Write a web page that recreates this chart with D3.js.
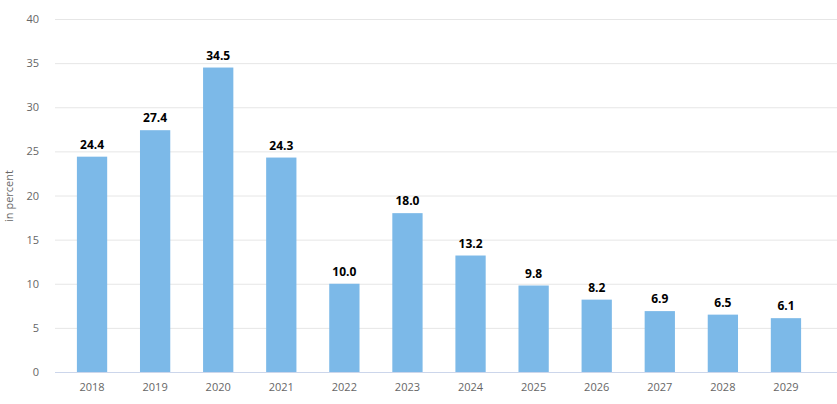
<!DOCTYPE html>
<html><head><meta charset="utf-8">
<script src="https://cdn.jsdelivr.net/npm/d3@7"></script>
<style>body{margin:0;background:#fff}text{font-family:"Open Sans",sans-serif}</style>
</head><body><svg id="c" width="837" height="404"></svg>
<script>
const years=["2018","2019","2020","2021","2022","2023","2024","2025","2026","2027","2028","2029"];
const values=[24.4,27.4,34.5,24.3,10.0,18.0,13.2,9.8,8.2,6.9,6.5,6.1];
const yTicks=[0,5,10,15,20,25,30,35,40];
const svg=d3.select("#c");
const x=d3.scaleBand().domain(years).range([60.5,817.5]).paddingInner(0.52).paddingOuter(0.26);
const y=d3.scaleLinear().domain([0,40]).range([372,19]);
svg.append("g").selectAll("line").data(yTicks).join("line")
 .attr("x1",55).attr("x2",837).attr("y1",d=>y(d)+0.5).attr("y2",d=>y(d)+0.5)
 .attr("stroke",d=>d===0?"#ccd6eb":"#e6e6e6");
svg.append("g").selectAll("text").data(yTicks).join("text")
 .attr("x",39).attr("y",d=>y(d)+4).attr("text-anchor","end").attr("font-size",11).attr("fill","#666").text(d=>d);
svg.append("text").attr("transform","translate(13,196) rotate(-90)").attr("text-anchor","middle").attr("font-size",11).attr("fill","#666").text("in percent");
svg.append("g").selectAll("rect").data(values).join("rect")
 .attr("x",(d,i)=>x(years[i])).attr("width",x.bandwidth()).attr("y",d=>y(d)).attr("height",d=>372-y(d)).attr("fill","#7cb9e8");
svg.append("g").selectAll("text").data(values).join("text")
 .attr("x",(d,i)=>x(years[i])+x.bandwidth()/2).attr("y",d=>y(d)-8).attr("text-anchor","middle")
 .attr("font-size",12).attr("font-weight","bold").attr("fill","#000").text(d=>d.toFixed(1));
svg.append("g").selectAll("text").data(years).join("text")
 .attr("x",d=>x(d)+x.bandwidth()/2).attr("y",391).attr("text-anchor","middle").attr("font-size",11).attr("fill","#666").text(d=>d);
</script></body></html>
